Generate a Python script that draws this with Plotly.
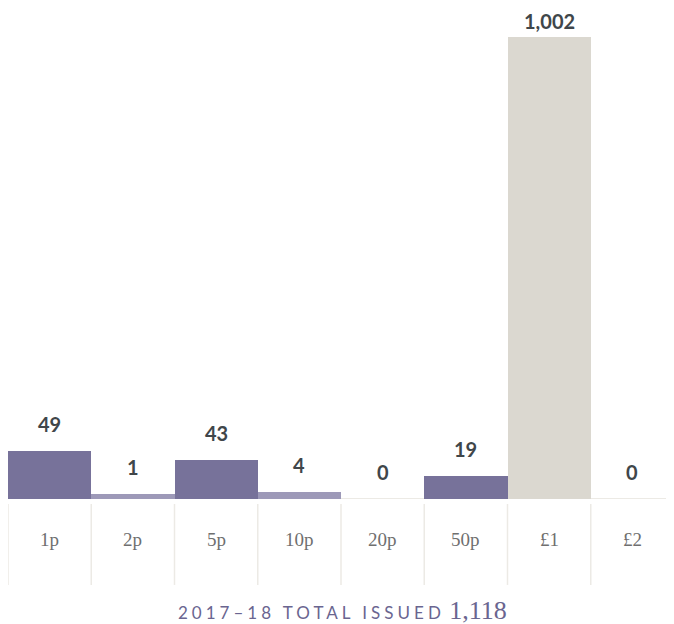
import plotly.graph_objects as go

# ---- data ----
denominations = ["1p", "2p", "5p", "10p", "20p", "50p", "£1", "£2"]
issued = [49, 1, 43, 4, 0, 19, 1002, 0]            # value labels
bar_heights = [48, 5, 39, 7, 0, 23, 462, 0]         # drawn bar heights
total_label = "1,118"
period_label = "2017–18 TOTAL ISSUED"

# ---- styles ----
DARK = "#77729a"
LIGHT = "#9d99b8"
BEIGE = "#dbd8d0"
bar_colors = [DARK, LIGHT, DARK, LIGHT, LIGHT, DARK, BEIGE, LIGHT]
LABEL_COLOR = "#40464a"
CAT_COLOR = "#6f6f6f"
SEP_COLOR = "#eceae5"
FOOT_COLOR = "#6a6590"
Y_MAX = 491
LABEL_GAP = 13

x_idx = list(range(len(denominations)))

fig = go.Figure()
fig.add_trace(go.Bar(
    x=x_idx, y=bar_heights,
    marker=dict(color=bar_colors, line=dict(width=0)),
    width=1.0, hoverinfo="skip",
))

annotations = []
for i, (h, v) in enumerate(zip(bar_heights, issued)):
    # keep label inside the figure when the bar is near the top
    shift = min(LABEL_GAP, Y_MAX - h - 27)
    annotations.append(dict(
        x=i, y=h, xref="x", yref="y", text=f"{v:,}",
        showarrow=False, yanchor="bottom", yshift=shift,
        font=dict(family="Lato", size=20, color=LABEL_COLOR, weight="bold"),
    ))
    annotations.append(dict(
        x=i, y=-0.0835, xref="x", yref="paper", text=denominations[i],
        showarrow=False, yanchor="middle",
        font=dict(family="Liberation Serif", size=19, color=CAT_COLOR),
    ))

annotations.append(dict(
    x=0.502, y=-0.228, xref="paper", yref="paper", xanchor="center", yanchor="middle",
    showarrow=False, borderpad=0,
    text=(f"<span style='letter-spacing:4px'>{period_label}</span> "
          f"<span style='font-family:Liberation Serif;font-size:26px'>{total_label}</span>"),
    font=dict(family="Lato", size=17, color=FOOT_COLOR),
))

shapes = []
for i in range(len(denominations)):
    shapes.append(dict(
        type="line", xref="x", yref="paper",
        x0=i - 0.5, x1=i - 0.5, y0=-0.0102, y1=-0.175,
        line=dict(color=SEP_COLOR, width=1.5),
    ))
shapes.append(dict(
    type="line", xref="paper", yref="y", x0=0, x1=1, y0=0, y1=0,
    line=dict(color=SEP_COLOR, width=2), layer="below",
))

fig.update_layout(
    width=666, height=616,
    margin=dict(l=0, r=0, t=0, b=125),
    paper_bgcolor="white", plot_bgcolor="white",
    showlegend=False, bargap=0,
    xaxis=dict(range=[-0.5, 7.5], visible=False, fixedrange=True),
    yaxis=dict(range=[0, Y_MAX], visible=False, fixedrange=True),
    annotations=annotations, shapes=shapes,
)

fig.write_html("out.html")
